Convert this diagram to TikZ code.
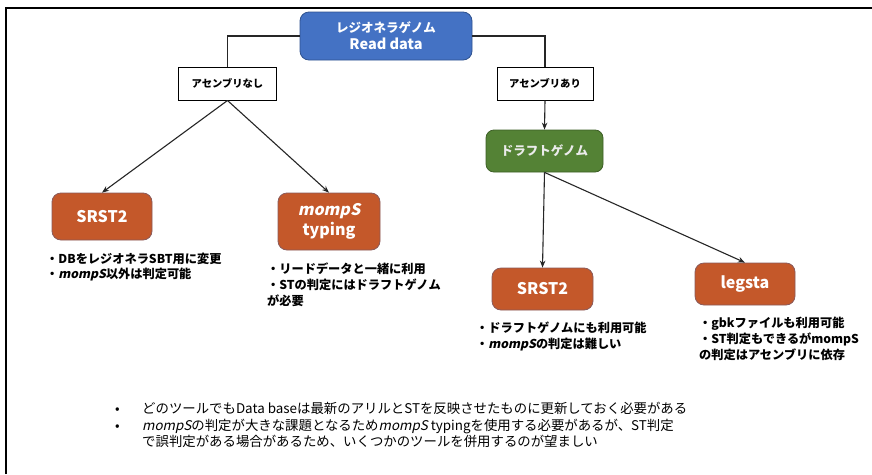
\documentclass[tikz,border=0pt]{standalone}
\usepackage{fontspec}
\setmainfont{Noto Sans CJK JP}[
  BoldFont={Noto Sans CJK JP/B},
  ItalicFont={Noto Sans CJK JP},
  ItalicFeatures={FakeSlant=0.22},
  BoldItalicFont={Noto Sans CJK JP/B},
  BoldItalicFeatures={FakeSlant=0.22}]
\usetikzlibrary{arrows.meta}
\definecolor{topblue}{HTML}{4472C4}
\definecolor{topblueline}{HTML}{2F528F}
\definecolor{toolorange}{HTML}{C4582A}
\definecolor{toolorangeline}{HTML}{8A5A5A}
\definecolor{draftgreen}{HTML}{548235}
\definecolor{draftgreenline}{HTML}{3D5F26}
\tikzset{
  every node/.style={font=\bfseries},
  topbox/.style={draw=topblueline, fill=topblue, rounded corners=9pt, line width=0.8pt,
    minimum width=172pt, minimum height=48pt, text=white, align=center,
    font=\bfseries\fontsize{12.5}{17}\selectfont},
  choicebox/.style={draw=black, fill=white, line width=1pt, minimum width=98pt,
    minimum height=33pt, inner sep=0pt, font=\bfseries\fontsize{10.3}{12}\selectfont},
  toolbox/.style={draw=toolorangeline, fill=toolorange, rounded corners=9pt, line width=0.8pt,
    minimum width=100pt, minimum height=44pt, text=white, align=center,
    font=\bfseries\fontsize{16}{20}\selectfont},
  draftbox/.style={draw=draftgreenline, fill=draftgreen, rounded corners=8pt, line width=0.8pt,
    minimum width=117pt, minimum height=42pt, text=white!92!black,
    font=\bfseries\fontsize{12.5}{14}\selectfont},
  desc/.style={anchor=base west, inner sep=0pt, font=\bfseries\fontsize{12.2}{14}\selectfont},
  note/.style={anchor=base west, inner sep=0pt, font=\mdseries\fontsize{13.4}{16}\selectfont},
  link/.style={draw=black!85, line width=1.1pt},
  arrowlink/.style={link, -{Stealth[length=7pt,width=5.5pt]}}
}
\begin{document}
\begin{tikzpicture}[x=1pt,y=-1pt]
\useasboundingbox (0,0) rectangle (872,474);
\fill[white] (0,0) rectangle (872,474);
% frame (top and left only)
\draw[line width=2.6pt, black] (6,474) -- (6,8) -- (872,8);

% nodes
\node[topbox] (top) at (386,36) {レジオネラゲノム\\{\fontsize{14.5}{17}\selectfont Read data}};
\node[choicebox] (nashi) at (227.5,83.5) {アセンブリなし};
\node[choicebox, minimum width=96pt] (ari) at (545,83.5) {アセンブリあり};
\node[draftbox] (draft) at (544.5,151) {ドラフトゲノム};
\node[toolbox, minimum height=47pt] (srstL) at (102,216.5) {SRST2};
\node[toolbox, minimum width=102pt, minimum height=57pt] (momps) at (329,221.5)
  {\textit{mompS}\\typing};
\node[toolbox, minimum width=101pt, minimum height=42pt] (srstR) at (542.5,289) {SRST2};
\node[toolbox, minimum height=42pt] (legsta) at (745,284) {legsta};

% connectors
\draw[link] (top.west) -| (nashi.north);
\draw[link] (top.east) -| (ari.north);
\draw[arrowlink] (nashi.south) -- (srstL.north);
\draw[arrowlink] (nashi.south) -- (momps.north);
\draw[arrowlink] (ari.south) -- (draft.north);
\draw[arrowlink] (draft.south) -- (srstR.north);
\draw[arrowlink] (draft.south) -- (legsta.north);

% descriptions
\node[desc] (dl1) at (46,263) {・DBをレジオネラSBT用に変更};
\node[desc] (dl2) at (46,278) {・\textit{mompS}以外は判定可能};
\node[desc] (dm1) at (267,273) {・リードデータと一緒に利用};
\node[desc] (dm2) at (267,289) {・STの判定にはドラフトゲノム};
\node[desc] (dm3) at (267,305) {が必要};
\node[desc] (dr1) at (476,332) {・ドラフトゲノムにも利用可能};
\node[desc] (dr2) at (476,348) {・\textit{mompS}の判定は難しい};
\node[desc] (dg1) at (699,327) {・gbkファイルも利用可能};
\node[desc] (dg2) at (699,343) {・ST判定もできるがmompS};
\node[desc] (dg3) at (699,359) {の判定はアセンブリに依存};

% bottom notes
\node[note] (b1) at (115,413) {•};
\node[note] (n1) at (142,413) {どのツールでもData baseは最新のアリルとSTを反映させたものに更新しておく必要がある};
\node[note] (b2) at (115,430) {•};
\node[note] (n2) at (142,430) {\textit{mompS}の判定が大きな課題となるため\textit{mompS} typingを使用する必要があるが、ST判定};
\node[note] (n3) at (142,446) {で誤判定がある場合があるため、いくつかのツールを併用するのが望ましい};
\end{tikzpicture}
\end{document}
